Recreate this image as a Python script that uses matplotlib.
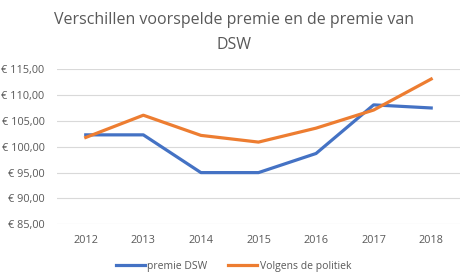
import matplotlib.pyplot as plt
from matplotlib.ticker import FuncFormatter

jaren = ['2012', '2013', '2014', '2015', '2016', '2017', '2018']
premie_dsw = [102.3, 102.3, 95.0, 95.0, 98.7, 108.1, 107.5]
volgens_politiek = [101.8, 106.1, 102.2, 100.9, 103.6, 107.1, 113.1]

plt.rcParams['font.family'] = ['Open Sans', 'DejaVu Sans']
grijs = '#595959'

fig = plt.figure(figsize=(4.67, 2.79), dpi=100)
ax = fig.add_axes([0.122, 0.196, 0.863, 0.556])

x = range(len(jaren))
ax.plot(x, premie_dsw, color='#4472C4', linewidth=2.3, label='premie DSW')
ax.plot(x, volgens_politiek, color='#ED7D31', linewidth=2.3, label='Volgens de politiek')

ax.set_ylim(85, 115)
ax.set_xlim(-0.5, len(jaren) - 0.5)
ax.set_yticks(range(85, 116, 5))
ax.yaxis.set_major_formatter(FuncFormatter(lambda v, p: '€ %d,00' % v))
ax.set_xticks(list(x))
ax.set_xticklabels(jaren)
ax.tick_params(length=0, labelsize=7.8, colors=grijs, pad=8)
ax.tick_params(axis='y', pad=9)
ax.grid(axis='y', color='#D9D9D9', linewidth=0.8)
ax.set_axisbelow(True)
for s in ax.spines.values():
    s.set_visible(False)

fig.text(0.5, 0.93, 'Verschillen voorspelde premie en de premie van', ha='center', va='center',
         fontsize=11.5, color=grijs)
fig.text(0.5, 0.84, 'DSW', ha='center', va='center', fontsize=11.5, color=grijs)

fig.legend(loc='center', bbox_to_anchor=(0.5, 0.045), ncol=2, frameon=False, fontsize=7.5,
           labelcolor=grijs, handlelength=2.8, handletextpad=0.2, columnspacing=2.0)

fig.savefig('out.png', dpi=100)
